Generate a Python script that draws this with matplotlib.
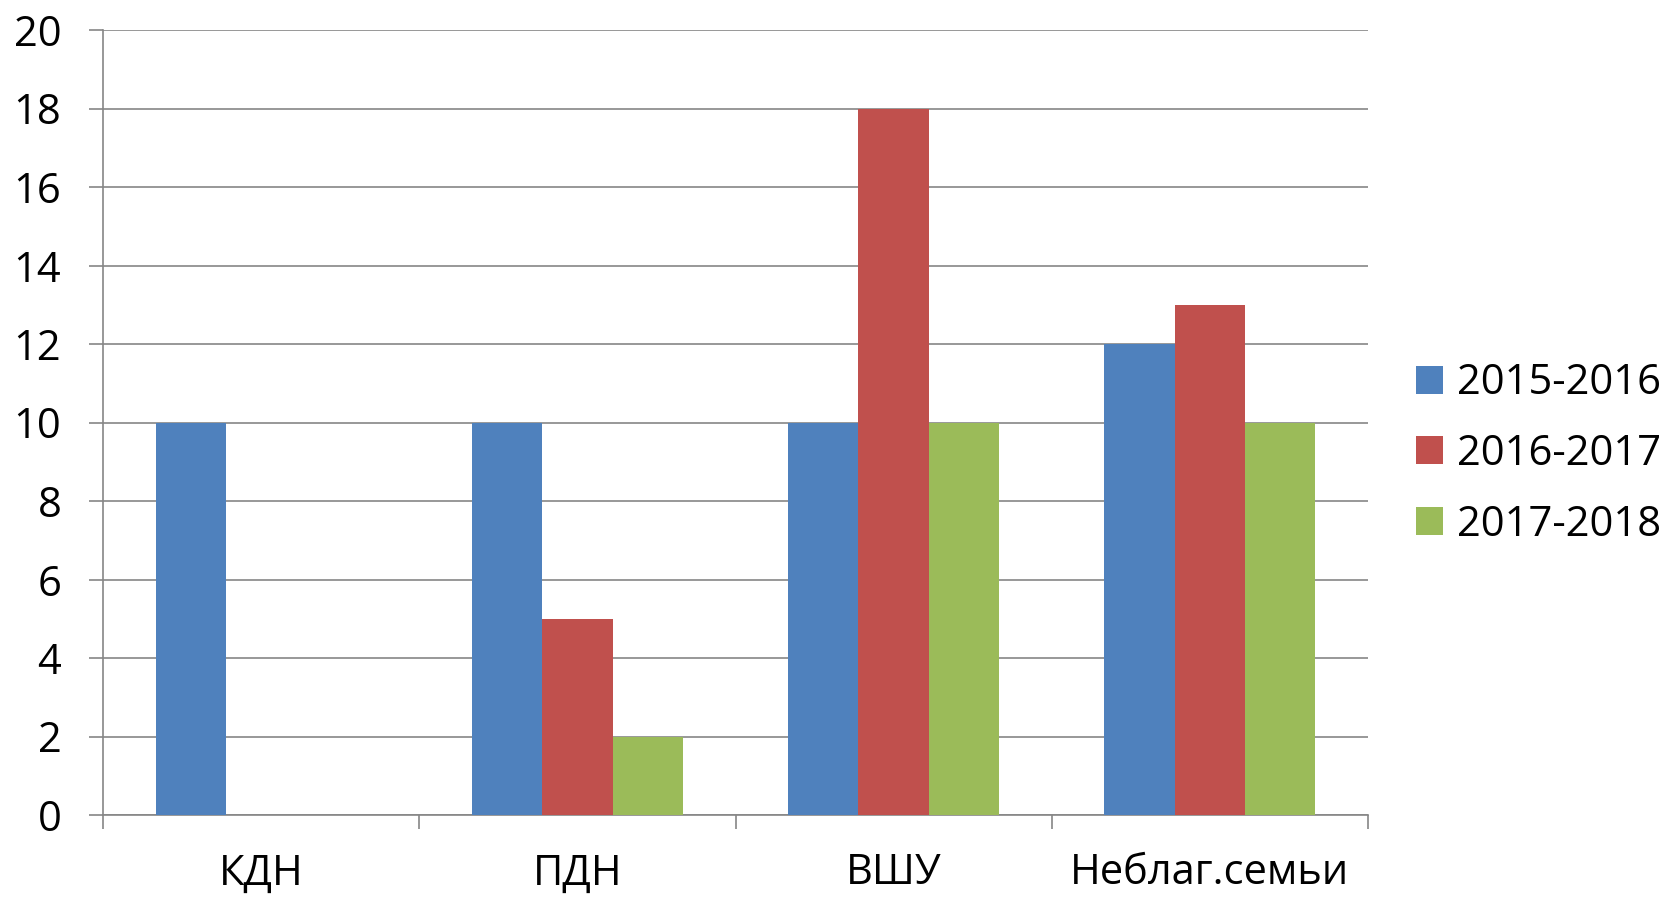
import matplotlib
matplotlib.use("Agg")
import matplotlib.pyplot as plt
import numpy as np

plt.rcParams['font.family'] = ['Open Sans', 'DejaVu Sans']

# данные
categories = ["КДН", "ПДН", "ВШУ", "Неблаг.семьи"]
series_names = ["2015-2016", "2016-2017", "2017-2018"]
v_2015 = [10, 10, 10, 12]
v_2016 = [0, 5, 18, 13]
v_2017 = [0, 2, 10, 10]
colors = ["#4F81BD", "#C0504D", "#9BBB59"]

fig = plt.figure(figsize=(16.71, 8.98), dpi=100)
ax = fig.add_axes([103 / 1671, 83 / 898, 1265 / 1671, 785 / 898])

x = np.arange(len(categories))
w = 2 / 9
for i, (vals, name) in enumerate(zip([v_2015, v_2016, v_2017], series_names)):
    ax.bar(x + (i - 1) * w, vals, width=w, color=colors[i], label=name, zorder=3)

ax.set_xlim(-0.5, len(categories) - 0.5)
ax.set_ylim(0, 20)
ax.set_yticks(range(0, 21, 2))
ax.grid(axis="y", color="#868686", linewidth=1.2, zorder=0)

# деления между категориями, подписи по центру
ax.set_xticks(np.arange(-0.5, len(categories), 1))
ax.set_xticklabels([])
ax.set_xticks(x, minor=True)
ax.set_xticklabels(categories, minor=True)
ax.tick_params(axis="x", which="major", length=10, width=1.2, color="#868686")
ax.tick_params(axis="x", which="minor", length=0, pad=27, labelsize=30)
ax.tick_params(axis="y", length=10, width=1.2, color="#868686", pad=20, labelsize=30)

for s in ["top", "right"]:
    ax.spines[s].set_visible(False)
for s in ["left", "bottom"]:
    ax.spines[s].set_color("#868686")
    ax.spines[s].set_linewidth(1.2)

ax.legend(loc="center left", bbox_to_anchor=(1416 / 1671, 1 - 454 / 898),
          bbox_transform=fig.transFigure, frameon=False, fontsize=30,
          handlelength=0.65, handleheight=0.65, handletextpad=0.33,
          labelspacing=0.69, borderaxespad=0, borderpad=0)

fig.savefig("out.png", dpi=100)
